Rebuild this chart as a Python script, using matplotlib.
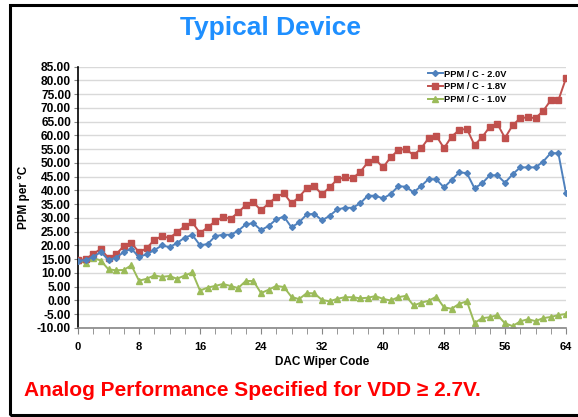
import matplotlib
matplotlib.use("Agg")
import matplotlib.pyplot as plt
from matplotlib.patches import Rectangle
import numpy as np

codes = list(range(65))
ppm_2v0 = [14.5, 14.6, 15.9, 17.6, 14.7, 15.6, 17.6, 18.8, 15.8, 16.8, 18.3, 20.0, 19.4, 20.9, 22.9, 23.8,
           20.1, 20.5, 23.4, 23.9, 23.9, 25.3, 27.7, 28.1, 25.6, 27.1, 29.5, 30.5, 26.6, 28.4, 31.3, 31.5,
           29.1, 30.8, 33.1, 33.7, 33.7, 35.3, 38.1, 38.1, 37.1, 38.7, 41.5, 41.4, 39.3, 41.6, 44.2, 44.0,
           41.1, 43.8, 46.6, 46.3, 40.8, 42.6, 45.5, 45.5, 42.8, 45.9, 48.4, 48.4, 48.4, 50.5, 53.6, 53.5, 39.0]
ppm_1v8 = [14.7, 15.0, 17.0, 18.7, 15.4, 16.8, 19.8, 21.0, 17.5, 19.0, 22.0, 23.4, 22.7, 24.9, 27.0, 28.4,
           24.5, 26.6, 28.8, 30.3, 29.7, 32.0, 34.7, 35.7, 32.8, 35.3, 37.6, 39.0, 35.3, 37.7, 40.8, 41.5,
           38.6, 41.2, 44.0, 44.8, 44.4, 46.7, 50.2, 51.3, 48.4, 52.0, 54.7, 55.1, 52.8, 55.3, 59.1, 59.8,
           55.4, 59.6, 62.0, 62.4, 56.5, 59.4, 63.1, 64.2, 59.1, 63.7, 66.3, 66.6, 66.3, 68.9, 72.8, 72.8, 80.8]
ppm_1v0 = [14.7, 13.5, 15.5, 14.5, 11.3, 11.0, 11.1, 12.8, 7.2, 7.9, 9.1, 8.6, 8.9, 7.9, 9.1, 10.2,
           3.6, 4.7, 5.3, 6.0, 5.3, 4.5, 7.1, 7.1, 2.7, 3.9, 5.3, 4.9, 1.3, 0.5, 2.7, 2.6,
           0.2, -0.3, 0.6, 1.2, 1.2, 0.8, 1.0, 1.6, 0.6, 0.0, 1.2, 1.7, -1.8, -0.8, -0.1, 1.4,
           -2.5, -3.0, -1.2, -0.3, -8.2, -6.4, -6.1, -5.3, -8.3, -9.3, -7.6, -6.8, -7.5, -6.4, -6.0, -5.3, -4.9]
labels = ["PPM / C - 2.0V", "PPM / C - 1.8V", "PPM / C - 1.0V"]
x_ticks = list(range(0, 65, 8))
y_ticks = list(range(-10, 90, 5))

W, H = 578, 417
fig = plt.figure(figsize=(W / 100, H / 100), dpi=100)
fig.patch.set_facecolor("white")

# border
fig.add_artist(Rectangle((10 / W, 1 - 415 / H), 600 / W, (415 - 5) / H, transform=fig.transFigure,
                         fill=False, edgecolor="black", linewidth=2.2, clip_on=False))

ax = fig.add_axes([78 / W, 1 - 328 / H, (566 - 78) / W, (328 - 66.7) / H])
ax.plot(codes, ppm_2v0, color="#4F81BD", marker="D", markersize=3, linewidth=1.4, label=labels[0], zorder=4)
ax.plot(codes, ppm_1v8, color="#C0504D", marker="s", markersize=4.6, linewidth=1.4, label=labels[1], zorder=3)
ax.plot(codes, ppm_1v0, color="#9BBB59", marker="^", markersize=4.5, linewidth=1.4, label=labels[2], zorder=2)

ax.set_xlim(0, 64)
ax.set_ylim(-10, 85)
ax.set_xticks(x_ticks)
ax.set_xticks(range(0, 65, 2), minor=True)
ax.set_yticks(y_ticks)
ax.set_yticklabels([f"{v:.2f}" for v in y_ticks])
ax.yaxis.grid(True, color="#D9D9D9", linewidth=1)
ax.set_axisbelow(True)
for s in ["top", "right"]:
    ax.spines[s].set_visible(False)
ax.spines["left"].set_color("black")
ax.spines["left"].set_linewidth(1.2)
ax.spines["bottom"].set_color("#868686")
ax.spines["bottom"].set_linewidth(1.2)

ax.tick_params(axis="x", which="both", direction="out", length=4, color="#868686", pad=6)
ax.tick_params(axis="y", which="both", direction="out", length=3, color="#868686", pad=2)
for lab in ax.get_xticklabels():
    lab.set_fontfamily("Liberation Sans")
    lab.set_fontweight("bold")
    lab.set_fontsize(8)
for lab in ax.get_yticklabels():
    lab.set_fontfamily("Liberation Sans")
    lab.set_fontweight("bold")
    lab.set_fontsize(8.6)

ax.set_xlabel("DAC Wiper Code", fontfamily="Liberation Sans", fontweight="bold", fontsize=8.5, labelpad=3)
ax.set_ylabel("PPM per °C", fontfamily="Liberation Sans", fontweight="bold", fontsize=8.5, labelpad=5)

leg = ax.legend(loc="upper left", bbox_to_anchor=(424 / W, 1 - 66 / H), bbox_transform=fig.transFigure,
                frameon=False, handlelength=1.6, handletextpad=0.2, labelspacing=0.4, borderaxespad=0,
                prop={"family": "Liberation Sans", "weight": "bold", "size": 6.7})

fig.text(270 / W, 1 - 28 / H, "Typical Device", ha="center", va="center", color="#1E8FFF",
         fontsize=19, fontweight="bold", family=["Liberation Sans", "DejaVu Sans"])
fig.text(24 / W, 1 - 390 / H, "Analog Performance Specified for VDD ≥ 2.7V.", ha="left", va="center",
         color="#FF0000", fontsize=15, fontweight="bold", family=["Liberation Sans", "DejaVu Sans"])

fig.savefig("out.png", dpi=100, facecolor="white")
